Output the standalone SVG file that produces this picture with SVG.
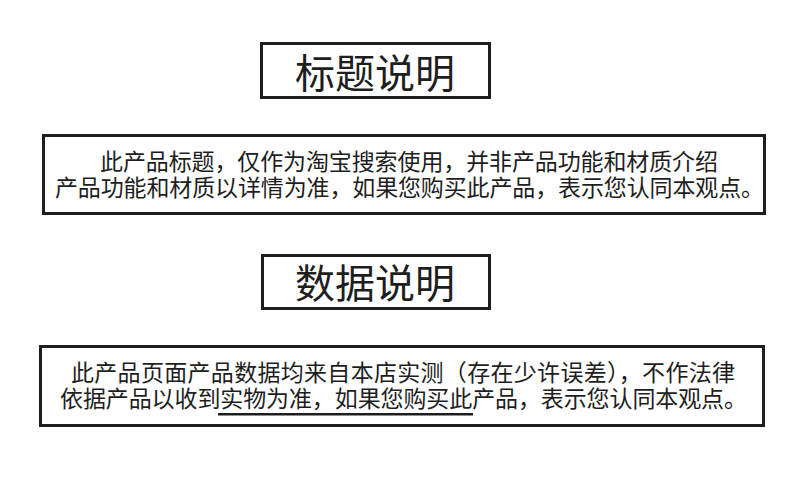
<svg xmlns="http://www.w3.org/2000/svg" width="790" height="480" viewBox="0 0 790 480">
<style>
.box{fill:#fff;stroke:#1e1e1e;stroke-width:3}
.title{font-family:"Noto Sans CJK SC","Noto Sans",sans-serif;font-size:40px;fill:#1e1e1e;text-anchor:middle}
.body{font-family:"Noto Sans CJK SC","Noto Sans",sans-serif;font-size:23px;fill:#1e1e1e}
</style>
<rect width="790" height="480" fill="#fff"/>
<g id="title-box-1">
<rect class="box" x="261.5" y="43.5" width="228" height="54"/>
<text class="title" x="375" y="88">标题说明</text>
</g>
<g id="desc-box-1">
<rect class="box" x="43.5" y="135.5" width="721" height="78"/>
<text class="body"><tspan x="100" y="170" textLength="618" lengthAdjust="spacing">此产品标题，仅作为淘宝搜索使用，并非产品功能和材质介绍</tspan><tspan x="55" y="196" textLength="709" lengthAdjust="spacing">产品功能和材质以详情为准，如果您购买此产品，表示您认同本观点。</tspan></text>
</g>
<g id="title-box-2">
<rect class="box" x="262.5" y="255.5" width="227" height="53"/>
<text class="title" x="375" y="298">数据说明</text>
</g>
<g id="desc-box-2">
<rect class="box" x="40.5" y="346.5" width="723" height="79"/>
<text class="body"><tspan x="71" y="381" textLength="664" lengthAdjust="spacing">此产品页面产品数据均来自本店实测（存在少许误差），不作法律</tspan><tspan x="60" y="407" textLength="687" lengthAdjust="spacing">依据产品以收到实物为准，如果您购买此产品，表示您认同本观点。</tspan></text>
<rect x="218" y="413" width="255" height="2.5" fill="#1e1e1e"/>
</g>
<g id="connectors"/>
</svg>
